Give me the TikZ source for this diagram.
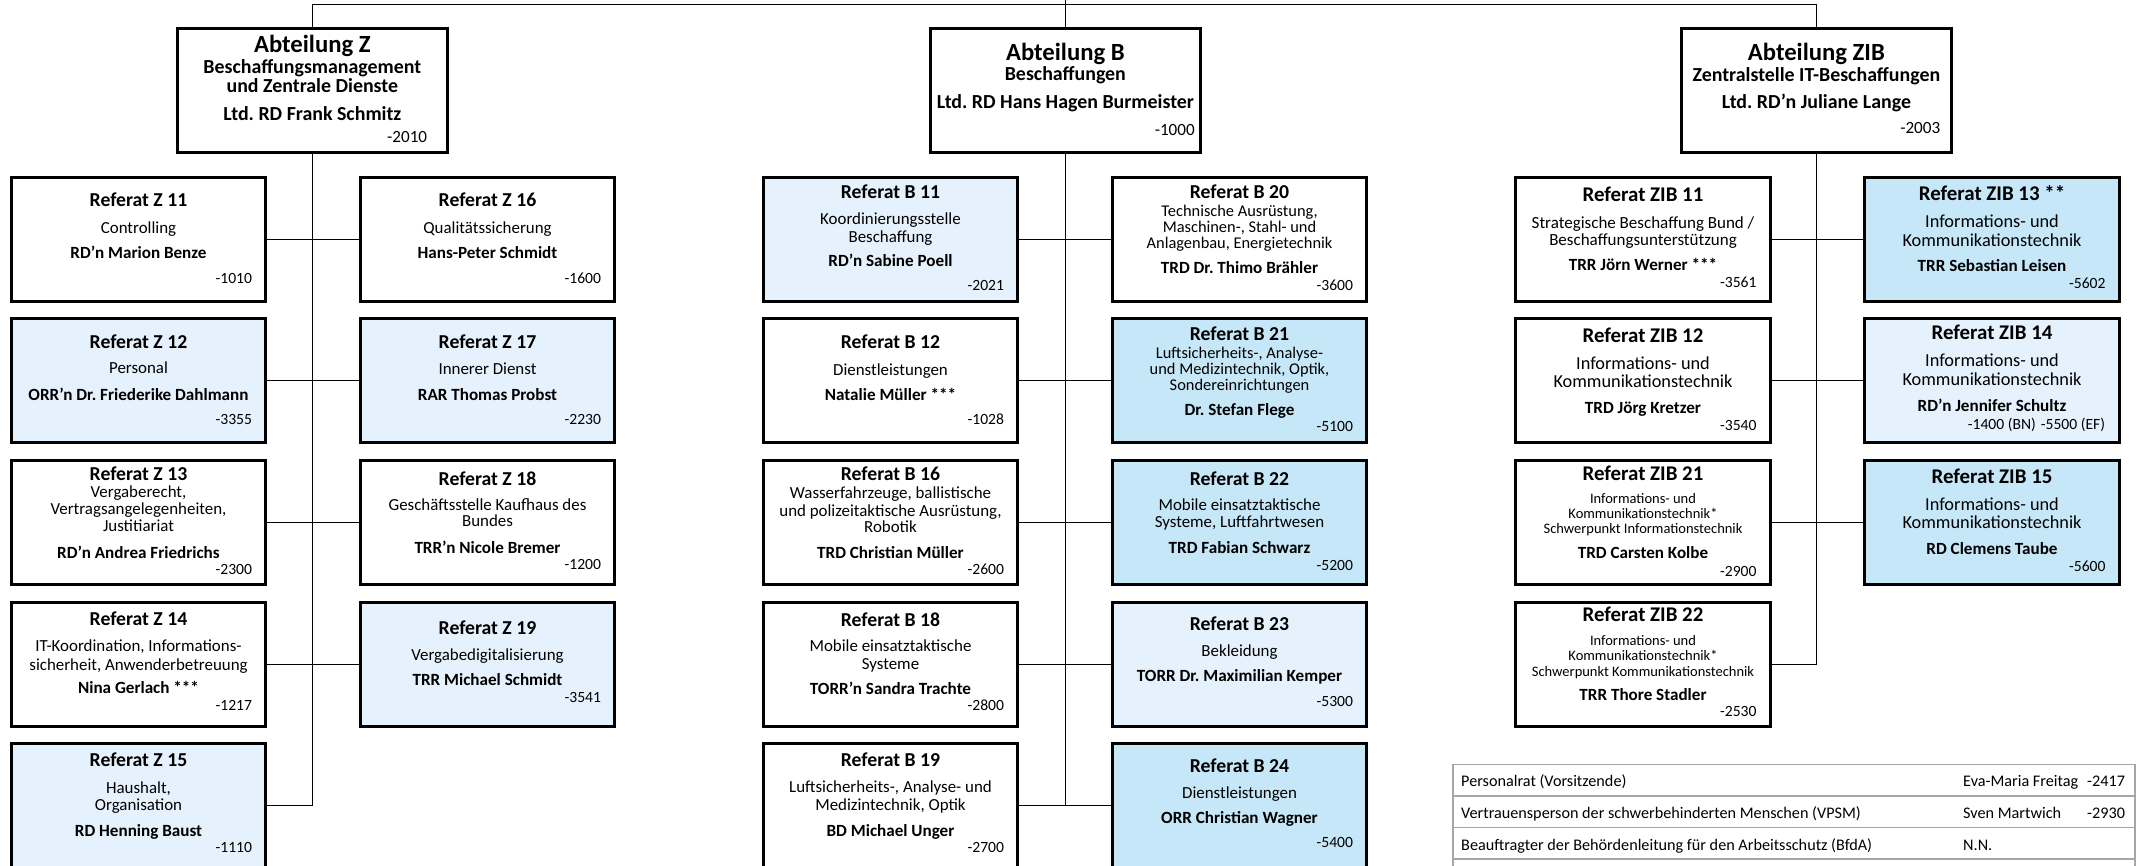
\documentclass[tikz,border=0pt]{standalone}
\usepackage{fontspec}
\setmainfont{Carlito}
\frenchspacing
\definecolor{lblue}{HTML}{E5F2FD}
\definecolor{mblue}{HTML}{C5E7F8}
\definecolor{tabgray}{HTML}{A6A6A6}
\newcommand\txl[5]{\node[#3] (#1) at ([yshift={1.35pt-#4pt}]#2.north) {#5};}
\newcommand\txn[6]{\node[#3] (#1) at ([xshift={1.35pt-#5pt},yshift={1.35pt-#4pt}]#2.north east) {#6};}
\tikzset{
  conn/.style={draw=black, line width=1.4pt},
  rbox/.style={draw=black, line width=2.7pt, anchor=north west, xshift=1.35pt, yshift=-1.35pt,
    minimum width=254.3pt, minimum height=124.3pt, inner sep=0pt, outer sep=0pt},
  zbox/.style={rbox, minimum width=255.3pt},
  abox/.style={rbox, line width=3.2pt, minimum width=270pt, minimum height=124pt},
  txt/.style={anchor=base, inner sep=0pt, outer sep=0pt},
  xttl/.style={txt, font=\fontsize{19.7}{22}\selectfont\bfseries},
  xttz/.style={txt, font=\fontsize{20.9}{23}\selectfont\bfseries},
  xdsc/.style={txt, font=\fontsize{16.9}{19}\selectfont},
  xdss/.style={txt, font=\fontsize{16.4}{19}\selectfont},
  xdsz/.style={txt, font=\fontsize{18.3}{20}\selectfont},
  xdsw/.style={txt, font=\fontsize{17}{19}\selectfont},
  xdst/.style={txt, font=\fontsize{14.5}{16}\selectfont},
  xnam/.style={txt, font=\fontsize{17.1}{19}\selectfont\bfseries},
  xnum/.style={txt, anchor=base east, font=\fontsize{15.6}{18}\selectfont},
  xabt/.style={txt, font=\fontsize{24.7}{27}\selectfont\bfseries},
  xabs/.style={txt, font=\fontsize{19.9}{22}\selectfont\bfseries},
  xabn/.style={txt, anchor=base east, font=\fontsize{17.1}{19}\selectfont},
  xtab/.style={anchor=base west, inner sep=0pt, font=\fontsize{16.2}{18}\selectfont},
  tabline/.style={draw=tabgray, line width=1.6pt},
}
\begin{document}
\begin{tikzpicture}[x=1pt,y=-1pt]
\useasboundingbox (0,0) rectangle (2138,865);
\clip (0,0) rectangle (2138,865);
\fill[white] (0,0) rectangle (2138,865);

% ---------- Abteilungen ----------
\node[abox] (az) at (176,27) {};
\txl{aza}{az}{xabt}{25}{Abteilung Z}
\txl{azb}{az}{xabs}{46.3}{Beschaffungsmanagement}
\txl{azc}{az}{xabs}{65.7}{und Zentrale Dienste}
\txl{azd}{az}{xabs}{93.7}{Ltd. RD Frank Schmitz}
\txn{aze}{az}{xabn}{115.7}{21.6}{-2010}

\node[abox] (ab) at (929,27) {};
\txl{aba}{ab}{xabt}{33}{Abteilung B}
\txl{abb}{ab}{xabs}{53}{Beschaffungen}
\txl{abc}{ab}{xabs}{81}{Ltd. RD Hans Hagen Burmeister}
\txn{abd}{ab}{xabn}{108}{7}{-1000}

\node[abox] (ai) at (1680,27) {};
\txl{aia}{ai}{xabt}{33}{Abteilung ZIB}
\txl{aib}{ai}{xabs}{54}{Zentralstelle IT-Beschaffungen}
\txl{aic}{ai}{xabs}{81}{Ltd. RD’n Juliane Lange}
\txn{aid}{ai}{xabn}{106}{12.5}{-2003}

% ---------- Abteilung Z ----------
\node[rbox] (z11) at (10,176) {};
\txl{z11a}{z11}{xttl}{30.7}{Referat Z 11}
\txl{z11b}{z11}{xdsc}{57}{Controlling}
\txl{z11c}{z11}{xnam}{82}{RD’n Marion Benze}
\txn{z11d}{z11}{xnum}{107}{15}{-1010}

\node[rbox] (z16) at (359,176) {};
\txl{z16a}{z16}{xttl}{30.7}{Referat Z 16}
\txl{z16b}{z16}{xdsc}{57}{Qualitätssicherung}
\txl{z16c}{z16}{xnam}{82}{Hans-Peter Schmidt}
\txn{z16d}{z16}{xnum}{107}{15}{-1600}

\node[rbox, fill=lblue] (z12) at (10,317) {};
\txl{z12a}{z12}{xttl}{31}{Referat Z 12}
\txl{z12b}{z12}{xdsc}{56.5}{Personal}
\txl{z12c}{z12}{xnam}{83}{ORR’n Dr. Friederike Dahlmann}
\txn{z12d}{z12}{xnum}{107}{15}{-3355}

\node[rbox, fill=lblue] (z17) at (359,317) {};
\txl{z17a}{z17}{xttl}{31}{Referat Z 17}
\txl{z17b}{z17}{xdsc}{57}{Innerer Dienst}
\txl{z17c}{z17}{xnam}{83}{RAR Thomas Probst}
\txn{z17d}{z17}{xnum}{107}{15}{-2230}

\node[rbox] (z13) at (10,459) {};
\txl{z13a}{z13}{xttl}{21}{Referat Z 13}
\txl{z13b}{z13}{xdsc}{38}{Vergaberecht,}
\txl{z13c}{z13}{xdsc}{55}{Vertragsangelegenheiten,}
\txl{z13d}{z13}{xdsc}{72.7}{Justitiariat}
\txl{z13e}{z13}{xnam}{99}{RD’n Andrea Friedrichs}
\txn{z13f}{z13}{xnum}{115}{15}{-2300}

\node[rbox] (z18) at (359,459) {};
\txl{z18a}{z18}{xttl}{26}{Referat Z 18}
\txl{z18b}{z18}{xdsc}{51}{Geschäftsstelle Kaufhaus des}
\txl{z18c}{z18}{xdsc}{67.7}{Bundes}
\txl{z18d}{z18}{xnam}{94}{TRR’n Nicole Bremer}
\txn{z18e}{z18}{xnum}{110}{15}{-1200}

\node[rbox] (z14) at (10,601) {};
\txl{z14a}{z14}{xttl}{24}{Referat Z 14}
\txl{z14b}{z14}{xdsc}{50.7}{IT-Koordination, Informations-}
\txl{z14c}{z14}{xdsc}{69}{sicherheit, Anwenderbetreuung}
\txl{z14d}{z14}{xnam}{92}{Nina Gerlach ***}
\txn{z14e}{z14}{xnum}{109.7}{15}{-1217}

\node[rbox, fill=lblue] (z19) at (359,601) {};
\txl{z19a}{z19}{xttl}{33}{Referat Z 19}
\txl{z19b}{z19}{xdsc}{59}{Vergabedigitalisierung}
\txl{z19c}{z19}{xnam}{84.7}{TRR Michael Schmidt}
\txn{z19d}{z19}{xnum}{101.7}{15}{-3541}

\node[rbox, fill=lblue] (z15) at (10,742) {};
\txl{z15a}{z15}{xttl}{24.7}{Referat Z 15}
\txl{z15b}{z15}{xdsc}{51.3}{Haushalt,}
\txl{z15c}{z15}{xdsc}{68.7}{Organisation}
\txl{z15d}{z15}{xnam}{94}{RD Henning Baust}
\txn{z15e}{z15}{xnum}{110.7}{15}{-1110}

% ---------- Abteilung B ----------
\node[rbox, fill=lblue] (b11) at (762,176) {};
\txl{b11a}{b11}{xttl}{22}{Referat B 11}
\txl{b11b}{b11}{xdsc}{48}{Koordinierungsstelle}
\txl{b11c}{b11}{xdsc}{66}{Beschaffung}
\txl{b11d}{b11}{xnam}{90.7}{RD’n Sabine Poell}
\txn{b11e}{b11}{xnum}{114.7}{15}{-2021}

\node[rbox] (b20) at (1111,176) {};
\txl{b20a}{b20}{xttl}{22}{Referat B 20}
\txl{b20b}{b20}{xdss}{40}{Technische Ausrüstung,}
\txl{b20c}{b20}{xdss}{56.7}{Maschinen-, Stahl- und}
\txl{b20d}{b20}{xdss}{72.3}{Anlagenbau, Energietechnik}
\txl{b20e}{b20}{xnam}{97.3}{TRD Dr. Thimo Brähler}
\txn{b20f}{b20}{xnum}{114.7}{15}{-3600}

\node[rbox] (b12) at (762,317) {};
\txl{b12a}{b12}{xttl}{31}{Referat B 12}
\txl{b12b}{b12}{xdsc}{58}{Dienstleistungen}
\txl{b12c}{b12}{xnam}{83}{Natalie Müller ***}
\txn{b12d}{b12}{xnum}{107}{15}{-1028}

\node[rbox, fill=mblue] (b21) at (1111,317) {};
\txl{b21a}{b21}{xttl}{23}{Referat B 21}
\txl{b21b}{b21}{xdss}{41}{Luftsicherheits-, Analyse-}
\txl{b21c}{b21}{xdss}{57}{und Medizintechnik, Optik,}
\txl{b21d}{b21}{xdss}{73}{Sondereinrichtungen}
\txl{b21e}{b21}{xnam}{98}{Dr. Stefan Flege}
\txn{b21f}{b21}{xnum}{114.7}{15}{-5100}

\node[rbox] (b16) at (762,459) {};
\txl{b16a}{b16}{xttl}{21}{Referat B 16}
\txl{b16b}{b16}{xdsc}{39.3}{Wasserfahrzeuge, ballistische}
\txl{b16c}{b16}{xdsc}{57}{und polizeitaktische Ausrüstung,}
\txl{b16d}{b16}{xdsc}{73.7}{Robotik}
\txl{b16e}{b16}{xnam}{99.3}{TRD Christian Müller}
\txn{b16f}{b16}{xnum}{115}{15}{-2600}

\node[rbox, fill=mblue] (b22) at (1111,459) {};
\txl{b22a}{b22}{xttl}{26}{Referat B 22}
\txl{b22b}{b22}{xdsc}{51.7}{Mobile einsatztaktische}
\txl{b22c}{b22}{xdsc}{68.3}{Systeme, Luftfahrtwesen}
\txl{b22d}{b22}{xnam}{94.3}{TRD Fabian Schwarz}
\txn{b22e}{b22}{xnum}{111}{15}{-5200}

\node[rbox] (b18) at (762,601) {};
\txl{b18a}{b18}{xttl}{25}{Referat B 18}
\txl{b18b}{b18}{xdsc}{50.7}{Mobile einsatztaktische}
\txl{b18c}{b18}{xdsc}{68.3}{Systeme}
\txl{b18d}{b18}{xnam}{93}{TORR’n Sandra Trachte}
\txn{b18e}{b18}{xnum}{109.7}{15}{-2800}

\node[rbox, fill=lblue] (b23) at (1111,601) {};
\txl{b23a}{b23}{xttl}{29.7}{Referat B 23}
\txl{b23b}{b23}{xdsc}{55.7}{Bekleidung}
\txl{b23c}{b23}{xnam}{80.7}{TORR Dr. Maximilian Kemper}
\txn{b23d}{b23}{xnum}{105}{15}{-5300}

\node[rbox] (b19) at (762,742) {};
\txl{b19a}{b19}{xttl}{24.7}{Referat B 19}
\txl{b19b}{b19}{xdsc}{50.7}{Luftsicherheits-, Analyse- und}
\txl{b19c}{b19}{xdsc}{68.7}{Medizintechnik, Optik}
\txl{b19d}{b19}{xnam}{94}{BD Michael Unger}
\txn{b19e}{b19}{xnum}{110.7}{15}{-2700}

\node[rbox, fill=mblue] (b24) at (1111,742) {};
\txl{b24a}{b24}{xttl}{30.7}{Referat B 24}
\txl{b24b}{b24}{xdsc}{56.3}{Dienstleistungen}
\txl{b24c}{b24}{xnam}{81.3}{ORR Christian Wagner}
\txn{b24d}{b24}{xnum}{105.3}{15}{-5400}

% ---------- Abteilung ZIB ----------
\node[zbox] (i11) at (1514,176) {};
\txl{i11a}{i11}{xttz}{25.7}{Referat ZIB 11}
\txl{i11b}{i11}{xdsw}{52.3}{Strategische Beschaffung Bund /}
\txl{i11c}{i11}{xdsw}{69}{Beschaffungsunterstützung}
\txl{i11d}{i11}{xnam}{94.7}{TRR Jörn Werner ***}
\txn{i11e}{i11}{xnum}{111.3}{15.5}{-3561}

\node[zbox, fill=mblue] (i13) at (1863,176) {};
\txl{i13a}{i13}{xttz}{24}{Referat ZIB 13 **}
\txl{i13b}{i13}{xdsz}{51.3}{Informations- und}
\txl{i13c}{i13}{xdsz}{70}{Kommunikationstechnik}
\txl{i13d}{i13}{xnam}{95.7}{TRR Sebastian Leisen}
\txn{i13e}{i13}{xnum}{112.3}{15.5}{-5602}

\node[zbox] (i12) at (1514,317) {};
\txl{i12a}{i12}{xttz}{25.3}{Referat ZIB 12}
\txl{i12b}{i12}{xdsz}{52.3}{Informations- und}
\txl{i12c}{i12}{xdsz}{70.3}{Kommunikationstechnik}
\txl{i12d}{i12}{xnam}{96.3}{TRD Jörg Kretzer}
\txn{i12e}{i12}{xnum}{113}{15.5}{-3540}

\node[zbox, fill=lblue] (i14) at (1863,317) {};
\txl{i14a}{i14}{xttz}{22}{Referat ZIB 14}
\txl{i14b}{i14}{xdsz}{49.7}{Informations- und}
\txl{i14c}{i14}{xdsz}{68}{Kommunikationstechnik}
\txl{i14d}{i14}{xnam}{94.7}{RD’n Jennifer Schultz}
\txn{i14e}{i14}{xnum}{112}{16}{-1400 (BN)\hspace{5pt}-5500 (EF)}

\node[zbox] (i21) at (1514,459) {};
\txl{i21a}{i21}{xttz}{21}{Referat ZIB 21}
\txl{i21b}{i21}{xdst}{44.3}{Informations- und}
\txl{i21c}{i21}{xdst}{59.3}{Kommunikationstechnik*}
\txl{i21d}{i21}{xdst}{74.3}{Schwerpunkt Informationstechnik}
\txl{i21e}{i21}{xnam}{99.3}{TRD Carsten Kolbe}
\txn{i21f}{i21}{xnum}{117}{15.5}{-2900}

\node[zbox, fill=mblue] (i15) at (1863,459) {};
\txl{i15a}{i15}{xttz}{24.3}{Referat ZIB 15}
\txl{i15b}{i15}{xdsz}{51}{Informations- und}
\txl{i15c}{i15}{xdsz}{69.3}{Kommunikationstechnik}
\txl{i15d}{i15}{xnam}{95}{RD Clemens Taube}
\txn{i15e}{i15}{xnum}{112.7}{15.5}{-5600}

\node[zbox] (i22) at (1514,601) {};
\txl{i22a}{i22}{xttz}{20.7}{Referat ZIB 22}
\txl{i22b}{i22}{xdst}{44}{Informations- und}
\txl{i22c}{i22}{xdst}{59.7}{Kommunikationstechnik*}
\txl{i22d}{i22}{xdst}{75}{Schwerpunkt Kommunikationstechnik}
\txl{i22e}{i22}{xnam}{99}{TRR Thore Stadler}
\txn{i22f}{i22}{xnum}{115.7}{15.5}{-2530}

% ---------- Connectors ----------
\coordinate (topline) at (0,4.5);
\coordinate (topedge) at (0,-3);
\draw[conn] (az.north) -- (az.north |- topline) -- (ai.north |- topline) -- (ai.north);
\draw[conn] (ab.north) -- (ab.north |- topedge);

\draw[conn] (az.south) |- (z15.east);
\draw[conn] (z11.east) -- (z16.west);
\draw[conn] (z12.east) -- (z17.west);
\draw[conn] (z13.east) -- (z18.west);
\draw[conn] (z14.east) -- (z19.west);

\draw[conn] (ab.south) |- (b19.east);
\draw[conn] (b11.east) -- (b20.west);
\draw[conn] (b12.east) -- (b21.west);
\draw[conn] (b16.east) -- (b22.west);
\draw[conn] (b18.east) -- (b23.west);
\draw[conn] (b19.east) -- (b24.west);

\draw[conn] (ai.south) |- (i22.east);
\draw[conn] (i11.east) -- (i13.west);
\draw[conn] (i12.east) -- (i14.west);
\draw[conn] (i21.east) -- (i15.west);

% ---------- Table ----------
\draw[tabline] (1453,875) -- (1453,764.3) -- (2135,764.3) -- (2135,875);
\draw[tabline] (1453,795.7) -- (2135,795.7);
\draw[tabline] (1453,827.3) -- (2135,827.3);
\draw[tabline] (1453,859) -- (2135,859);
\node[xtab] (r1a) at (1461,786.7) {Personalrat (Vorsitzende)};
\node[xtab] (r1b) at (1963,786.7) {Eva-Maria Freitag};
\node[xtab] (r1c) at (2087,786.7) {-2417};
\node[xtab] (r2a) at (1461,818.3) {Vertrauensperson der schwerbehinderten Menschen (VPSM)};
\node[xtab] (r2b) at (1963,818.3) {Sven Martwich};
\node[xtab] (r2c) at (2087,818.3) {-2930};
\node[xtab] (r3a) at (1461,850) {Beauftragter der Behördenleitung für den Arbeitsschutz (BfdA)};
\node[xtab] (r3b) at (1963,850) {N.N.};
\end{tikzpicture}
\end{document}
